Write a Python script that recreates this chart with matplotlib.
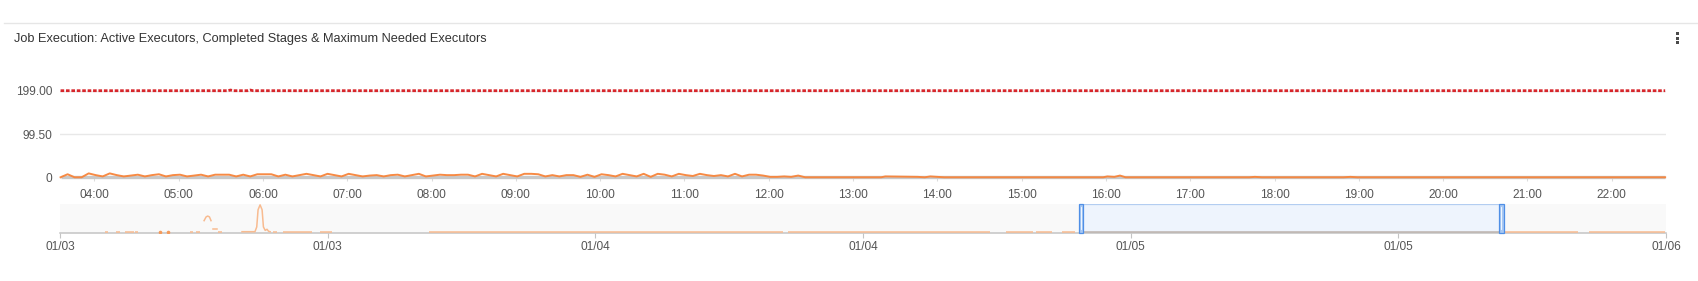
import numpy as np
import matplotlib
matplotlib.use("Agg")
import matplotlib.pyplot as plt
from matplotlib.patches import Rectangle
import matplotlib.transforms as mtransforms

plt.rcParams['font.family'] = ['Liberation Sans', 'DejaVu Sans']

# ---------------- data ----------------
title = "Job Execution: Active Executors, Completed Stages & Maximum Needed Executors"

# main chart: active executors (orange), sampled every 5 minutes from 03:36
active_start = "03:36"
active_step_min = 5
active_values = [
    0, 7, 0, 0, 9, 5, 2, 9, 5, 2,
    4, 6, 2, 5, 7, 2, 5, 6, 2, 4,
    6, 2, 6, 6, 6, 2, 6, 2, 7, 7,
    7, 2, 6, 2, 5, 8, 5, 2, 8, 5,
    2, 8, 5, 2, 4, 5, 2, 5, 6, 2,
    5, 8, 2, 4, 6, 5, 5, 6, 6, 2,
    8, 5, 2, 8, 5, 2, 8, 8, 7, 2,
    5, 2, 5, 5, 1, 6, 1, 7,
    5, 2, 8, 5, 2, 8, 1, 8, 6, 2,
    8, 5, 3, 8, 5, 3, 5, 2, 8, 2,
    6, 6, 4, 1, 1, 2, 1, 4, 0,
]
# afterwards mostly idle, a few small bumps
active_tail_times = ["12:30", "13:20", "13:23", "13:35", "13:46", "13:51", "13:55",
                     "14:00", "14:05", "15:58", "16:01", "16:06", "16:10", "16:14",
                     "17:42", "17:46", "17:51", "18:49", "18:54", "18:59", "22:38"]
active_tail_values = [0, 0, 2, 1.5, 1, 0, 2, 1, 0, 0, 2, 1, 4, 0, 0, 1, 0, 0, 1, 0, 0]

# completed stages (gray) – flat zero
stages_times = ["03:36", "22:38"]
stages_values = [0, 0]

# maximum needed executors (red dotted)
max_times = ["03:36", "05:35", "05:37", "05:39", "05:49", "05:51", "05:53", "22:38"]
max_values = [199, 199, 200.5, 199, 199, 200.5, 199, 199]

y_ticks = [0, 99.5, 199]
y_tick_labels = ["0", "99.50", "199.00"]
x_tick_labels = ["04:00", "05:00", "06:00", "07:00", "08:00", "09:00", "10:00",
                 "11:00", "12:00", "13:00", "14:00", "15:00", "16:00", "17:00",
                 "18:00", "19:00", "20:00", "21:00", "22:00"]
main_range = ("03:35.6", "22:38.6")

# navigator (hours since 01/03 00:00, 72 hours total)
nav_tick_hours = [0, 12, 24, 36, 48, 60, 72]
nav_tick_labels = ["01/03", "01/03", "01/04", "01/04", "01/05", "01/05", "01/06"]
nav_flat_level = 3.5
nav_flat_segments = [(2.0, 2.15), (2.5, 2.7), (2.9, 3.3), (3.35, 3.5), (5.83, 5.95),
                     (6.1, 6.28), (7.09, 7.25), (9.57, 9.72), (10.0, 11.3),
                     (11.66, 12.2), (16.53, 32.42), (32.62, 41.69), (42.42, 43.61),
                     (43.77, 44.48), (44.93, 45.5), (64.8, 68.07), (68.57, 71.95)]
nav_dot_hours = [4.48, 4.83]
nav_small_segment = (6.86, 7.03)
nav_small_level = 12
nav_bump_hours = [6.46, 6.55, 6.62, 6.70, 6.77]
nav_bump_values = [42, 55, 58, 55, 42]
nav_spike_hours = [8.16, 8.74, 8.82, 8.88, 8.97, 9.06, 9.12, 9.20, 9.28, 9.35, 9.42]
nav_spike_values = [3.5, 3.5, 20, 80, 97, 80, 20, 8, 12, 5, 3.5]
nav_window = (45.78, 64.62)


def hm(s):
    parts = s.split(":")
    return int(parts[0]) + float(parts[1]) / 60.0


# ---------------- figure ----------------
W, H = 1698, 281
fig = plt.figure(figsize=(W / 100, H / 100), dpi=100)
fig.patch.set_facecolor("white")


def box(x0, ytop, x1, ybot):
    return [x0 / W, 1 - ybot / H, (x1 - x0) / W, (ybot - ytop) / H]


# overlay for decorations
ov = fig.add_axes([0, 0, 1, 1], zorder=0)
ov.set_xlim(0, W)
ov.set_ylim(H, 0)
ov.axis("off")
ov.plot([4, W], [23, 23], color="#e6e6e6", lw=1.0)
for yy in (33.5, 38, 42.5):
    ov.add_patch(Rectangle((1676.5, yy - 1.5), 3, 3, color="#4a4a4a", lw=0))

fig.text(14 / W, 1 - 39 / H, title, fontsize=9.2, color="#333333",
         ha="left", va="center")

# ---------------- main chart ----------------
ax = fig.add_axes(box(60, 90.7, 1666, 177.3), zorder=2)
ax.patch.set_alpha(0)
for sp in ax.spines.values():
    sp.set_visible(False)

t_active = hm(active_start) + np.arange(len(active_values)) * active_step_min / 60.0
t_tail = [hm(s) for s in active_tail_times]
t_all = np.concatenate([t_active, t_tail])
v_all = np.concatenate([active_values, active_tail_values])

ax.set_xlim(hm(main_range[0]), hm(main_range[1]))
ax.set_ylim(0, 199)

ax.set_yticks(y_ticks)
ax.set_yticklabels(y_tick_labels)
ax.grid(axis="y", color="#e8e8e8", lw=1.0)
ax.set_axisbelow(True)

xt = [hm(s) for s in x_tick_labels]
ax.set_xticks(xt)
ax.set_xticklabels(x_tick_labels)
ax.tick_params(axis="x", length=3.2, width=0.8, color="#dcdcdc", pad=5.0,
               labelsize=8.6, labelcolor="#555555")
ax.tick_params(axis="y", length=0, pad=5.5, labelsize=8.6, labelcolor="#555555")

ax.plot([hm(s) for s in stages_times], stages_values, color="#c8c8c8", lw=2.4,
        clip_on=False, zorder=3, solid_capstyle="butt")
ax.plot(t_all, v_all, color="#f7843a", lw=1.4, clip_on=False, zorder=4,
        alpha=0.95)
ax.plot([hm(s) for s in max_times], max_values, color="#d7262b", lw=2.0,
        linestyle=(0, (1.3, 0.65)), dash_capstyle="butt", clip_on=False, zorder=5)

# ---------------- navigator ----------------
nav = fig.add_axes(box(60, 204, 1666, 232.7), zorder=2)
nav.set_facecolor("#f9f9f9")
for k, sp in nav.spines.items():
    sp.set_visible(k == "bottom")
nav.spines["bottom"].set_color("#c4c4c4")
nav.spines["bottom"].set_linewidth(1.1)
nav.set_xlim(0, 72)
nav.set_ylim(0, 100)
nav.set_yticks([])
nav.set_xticks(nav_tick_hours)
nav.set_xticklabels(nav_tick_labels)
nav.tick_params(axis="x", length=3.6, width=0.8, color="#c4c4c4", pad=2.5,
                labelsize=8.6, labelcolor="#555555")

nav_col = "#f8bb90"
for a, b in nav_flat_segments:
    nav.plot([a, b], [nav_flat_level, nav_flat_level], color=nav_col, lw=1.1,
             solid_capstyle="butt", zorder=3)
nav.plot(nav_small_segment, [nav_small_level] * 2, color=nav_col, lw=1.1, zorder=3)
nav.plot(nav_dot_hours, [nav_flat_level] * len(nav_dot_hours), "o", color="#f59a5a",
         ms=2.6, mec="none", zorder=3)
nav.plot(nav_bump_hours, nav_bump_values, color=nav_col, lw=1.1, zorder=3)
nav.plot(nav_spike_hours, nav_spike_values, color=nav_col, lw=1.1, zorder=3)

# selected window
nav.axvspan(nav_window[0], nav_window[1], ymin=0, ymax=1, facecolor="#eef4fd",
            edgecolor="#b3cdf1", lw=0.9, zorder=2)
nav.plot(nav_window, [nav_flat_level] * 2, color="#bdb3ae", lw=1.1, zorder=3)
hours_per_px = 72 / 1606.0
blend = mtransforms.blended_transform_factory(nav.transData, nav.transAxes)
for h in nav_window:
    w = 4.5 * hours_per_px
    nav.add_patch(Rectangle((h - w / 2, 0.0), w, 1.0, transform=blend,
                            facecolor="#a9c9f3", edgecolor="#4f8fe6", lw=0.9,
                            zorder=4, clip_on=False))
    nav.plot([h, h], [0.12, 0.88], transform=blend, color="white", lw=0.6,
             zorder=5, clip_on=False)

fig.savefig("out.png", dpi=100, facecolor="white")
